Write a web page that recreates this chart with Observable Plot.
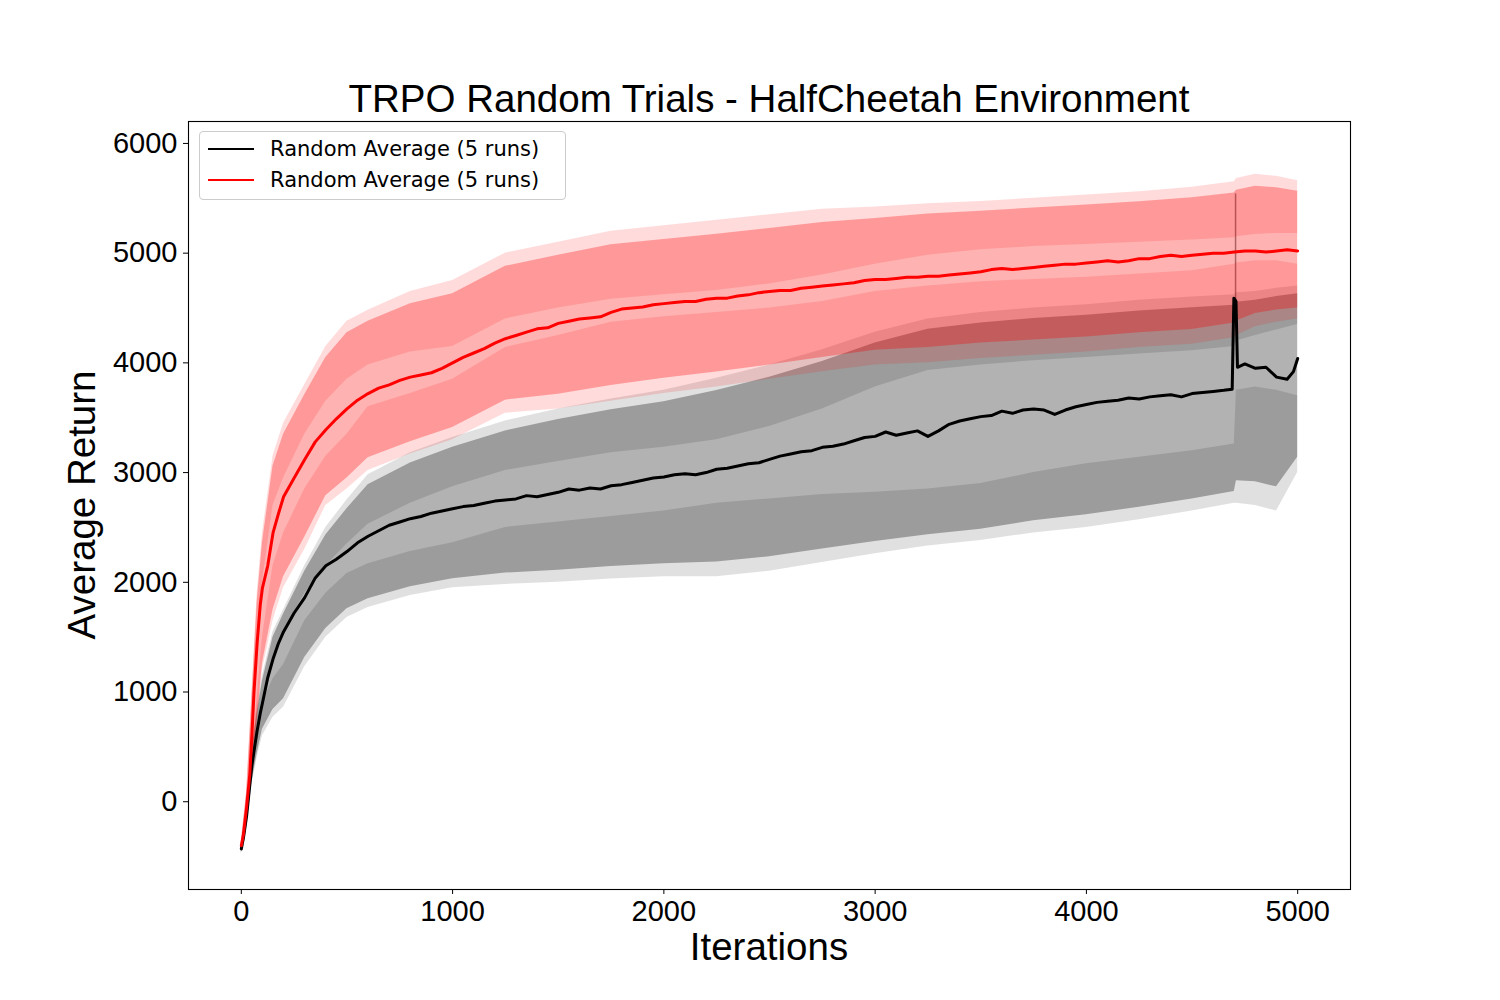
<!DOCTYPE html>
<html><head><meta charset="utf-8">
<script src="https://cdn.jsdelivr.net/npm/d3@7"></script>
<script src="https://cdn.jsdelivr.net/npm/@observablehq/plot@0.6"></script>
<style>
html,body{margin:0;padding:0;background:#fff;}
#wrap{position:relative;width:1500px;height:1000px;overflow:hidden;background:#fff;}
#title{position:relative;height:111px;}
#title span{position:absolute;left:188px;width:1162px;top:80px;text-align:center;font:38.5px/1 'Liberation Sans',Arial,sans-serif;white-space:nowrap;color:#000;}
#chart svg{display:block;}
.axlab{position:absolute;font:38.5px/1 'Liberation Sans',Arial,sans-serif;white-space:nowrap;color:#000;}
#xlab{left:0;width:1538px;top:928px;text-align:center;}
#ylab{left:82px;top:505px;transform:translate(-50%,-50%) rotate(-90deg);}
#legend{position:absolute;left:199px;top:131px;width:365px;height:67px;border:1px solid #cccccc;border-radius:4px;background:rgba(255,255,255,0.8);}
#legend .sw{position:absolute;left:8px;width:46px;height:2px;}
#legend .tx{position:absolute;left:70px;font:21px/1 'DejaVu Sans',sans-serif;white-space:nowrap;color:#000;}
</style></head>
<body>
<div id="wrap">
  <div id="title"><span>TRPO Random Trials - HalfCheetah Environment</span></div>
  <div id="chart"></div>
  <div class="axlab" id="xlab">Iterations</div>
  <div class="axlab" id="ylab">Average Return</div>
  <div id="legend"></div>
</div>
<script>
// ---- data ----
const xTicks = [0, 1000, 2000, 3000, 4000, 5000];
const yTicks = [0, 1000, 2000, 3000, 4000, 5000, 6000];
const legendLabels = ["Random Average (5 runs)", "Random Average (5 runs)"];
const seriesColors = ["#000000", "#ff0000"];

// iterations at which the spread bands were read
const zoneIters = [0,25,50,75,100,150,200,300,400,500,600,800,1000,1250,1500,1750,2000,2250,2500,2750,3000,3250,3500,3750,4000,4250,4500,4700,4710,4800,4900,5000];

// red run: noisy upper edge (bottom/top of its spikes) and noisy lower edge
const redUpperHi = [-350,100,1000,1900,2450,3150,3450,3800,4150,4380,4480,4650,4750,5000,5100,5200,5250,5300,5350,5400,5420,5450,5470,5500,5530,5560,5600,5650,5680,5720,5700,5660];
const redUpperLo = [-420,-20,700,1500,2000,2700,2950,3350,3650,3850,3980,4100,4150,4400,4500,4580,4620,4660,4720,4800,4900,4980,5030,5060,5080,5100,5120,5140,5150,5170,5180,5180];
const redLowerHi = [-420,-50,400,950,1500,2150,2450,2850,3150,3350,3600,3720,3850,4140,4250,4370,4420,4460,4500,4560,4650,4700,4740,4760,4780,4810,4840,4900,4910,4930,4930,4900];
const redLowerLo = [-450,-150,250,700,1200,1650,1950,2300,2700,2850,3020,3170,3300,3540,3580,3650,3720,3780,3850,3920,3980,4000,4040,4070,4100,4140,4170,4230,4250,4330,4370,4400];

// black run: noisy upper edge and noisy lower edge
const blackUpperHi = [-400,-50,500,850,1150,1550,1750,2150,2500,2750,2980,3180,3320,3470,3580,3670,3750,3860,3980,4120,4280,4400,4460,4500,4530,4570,4600,4620,4640,4650,4680,4700];
const blackUpperLo = [-450,-150,350,650,900,1300,1550,1900,2150,2350,2530,2720,2870,3020,3100,3180,3230,3300,3420,3580,3780,3930,3980,4020,4050,4080,4110,4150,4200,4250,4300,4350];
const blackLowerHi = [-430,-150,300,600,900,1120,1250,1650,1900,2080,2170,2280,2360,2500,2550,2600,2650,2720,2760,2800,2820,2850,2900,3000,3080,3140,3200,3260,3750,3780,3750,3700];
const blackLowerLo = [-480,-250,150,400,600,770,860,1230,1500,1680,1770,1880,1950,1980,2000,2030,2050,2050,2100,2180,2260,2330,2380,2450,2500,2570,2650,2720,2720,2700,2650,3000];

// single spike of the black upper edge near iteration 4706
const blackSpikeIter = [4706];
const blackSpikeLow = [4400];
const blackSpikeHigh = [5540];

// mean curves
const blackIters = [0,10,25,40,50,60,75,90,100,125,150,175,200,250,300,350,400,450,500,550,600,650,700,750,800,850,900,950,1000,1050,1100,1150,1200,1250,1300,1350,1400,1450,1500,1550,1600,1650,1700,1750,1800,1850,1900,1950,2000,2050,2100,2150,2200,2250,2300,2350,2400,2450,2500,2550,2600,2650,2700,2750,2800,2850,2900,2950,3000,3050,3100,3150,3200,3250,3300,3350,3400,3450,3500,3550,3600,3650,3700,3750,3800,3850,3900,3950,4000,4050,4100,4150,4200,4250,4300,4350,4400,4450,4500,4550,4600,4650,4690,4698,4708,4715,4750,4800,4850,4900,4950,4980,5000];
const blackMean = [-430,-330,-130,150,330,460,650,810,900,1130,1300,1440,1550,1720,1860,2040,2150,2210,2280,2360,2420,2470,2520,2550,2580,2600,2630,2650,2670,2690,2700,2720,2740,2750,2760,2790,2780,2800,2820,2850,2840,2860,2850,2880,2890,2910,2930,2950,2960,2980,2990,2980,3000,3030,3040,3060,3080,3090,3120,3150,3170,3190,3200,3230,3240,3260,3290,3320,3330,3370,3340,3360,3380,3330,3380,3440,3470,3490,3510,3520,3560,3540,3570,3580,3570,3530,3570,3600,3620,3640,3650,3660,3680,3670,3690,3700,3710,3690,3720,3730,3740,3750,3760,4590,4560,3960,3990,3950,3960,3870,3850,3920,4040];

const redIters = [0,10,25,40,50,60,75,90,100,125,150,175,200,250,300,350,400,450,500,550,600,650,700,750,800,850,900,950,1000,1050,1100,1150,1200,1250,1300,1350,1400,1450,1500,1550,1600,1650,1700,1750,1800,1850,1900,1950,2000,2050,2100,2150,2200,2250,2300,2350,2400,2450,2500,2550,2600,2650,2700,2750,2800,2850,2900,2950,3000,3050,3100,3150,3200,3250,3300,3350,3400,3450,3500,3550,3600,3650,3700,3750,3800,3850,3900,3950,4000,4050,4100,4150,4200,4250,4300,4350,4400,4450,4500,4550,4600,4650,4700,4750,4800,4850,4900,4950,5000];
const redMean = [-400,-300,-50,250,600,1000,1450,1800,1950,2150,2450,2620,2780,2950,3120,3280,3390,3490,3580,3660,3720,3770,3800,3840,3870,3890,3910,3950,4000,4050,4090,4130,4180,4220,4250,4280,4310,4320,4360,4380,4400,4410,4420,4460,4490,4500,4510,4530,4540,4550,4560,4560,4580,4590,4590,4610,4620,4640,4650,4660,4660,4680,4690,4700,4710,4720,4730,4750,4760,4760,4770,4780,4780,4790,4790,4800,4810,4820,4830,4850,4860,4850,4860,4870,4880,4890,4900,4900,4910,4920,4930,4920,4930,4950,4950,4970,4980,4970,4980,4990,5000,5000,5010,5020,5020,5010,5020,5030,5020];

// ---- derived: the shaded fill reaches most of the way into each noisy edge ----
const inner = (lo, hi, t) => lo.map((v, i) => v + t * (hi[i] - v));
const blackFillLow = inner(blackLowerLo, blackLowerHi, 0.2);
const blackFillHigh = inner(blackUpperLo, blackUpperHi, 0.8);
const redFillLow = inner(redLowerLo, redLowerHi, 0.2);
const redFillHigh = inner(redUpperLo, redUpperHi, 0.8);

const chart = Plot.plot({
  width: 1500,
  height: 889,
  marginTop: 10,
  marginBottom: 111,
  marginLeft: 188,
  marginRight: 150,
  style: {fontFamily: "'Liberation Sans', Arial, sans-serif", fontSize: "29px", color: "#000", background: "#fff"},
  x: {domain: [-250, 5250], ticks: xTicks, tickFormat: d => String(d), label: null, tickSize: 5, tickPadding: 6},
  y: {domain: [-800, 6200], ticks: yTicks, tickFormat: d => String(d), label: null, tickSize: 5, tickPadding: 6},
  marks: [
    // black run spread
    Plot.areaY(zoneIters, {x: zoneIters, y1: blackFillLow, y2: blackFillHigh, fill: seriesColors[0], fillOpacity: 0.3}),
    Plot.areaY(zoneIters, {x: zoneIters, y1: blackUpperLo, y2: blackUpperHi, fill: seriesColors[0], fillOpacity: 0.12}),
    Plot.areaY(zoneIters, {x: zoneIters, y1: blackLowerLo, y2: blackLowerHi, fill: seriesColors[0], fillOpacity: 0.12}),
    Plot.ruleX(blackSpikeIter, {x: blackSpikeIter, y1: blackSpikeLow, y2: blackSpikeHigh, stroke: seriesColors[0], strokeOpacity: 0.45, strokeWidth: 1.5}),
    // red run spread
    Plot.areaY(zoneIters, {x: zoneIters, y1: redFillLow, y2: redFillHigh, fill: seriesColors[1], fillOpacity: 0.3}),
    Plot.areaY(zoneIters, {x: zoneIters, y1: redUpperLo, y2: redUpperHi, fill: seriesColors[1], fillOpacity: 0.14}),
    Plot.areaY(zoneIters, {x: zoneIters, y1: redLowerLo, y2: redLowerHi, fill: seriesColors[1], fillOpacity: 0.14}),
    // means
    Plot.line(blackIters, {x: blackIters, y: blackMean, stroke: seriesColors[0], strokeWidth: 3}),
    Plot.line(redIters, {x: redIters, y: redMean, stroke: seriesColors[1], strokeWidth: 3}),
    Plot.frame({stroke: "#000", strokeWidth: 1.1})
  ]
});
document.getElementById("chart").appendChild(chart);

// legend
const lg = document.getElementById("legend");
legendLabels.forEach((lab, i) => {
  const top = i === 0 ? 7 : 38;
  const sw = document.createElement("div");
  sw.className = "sw";
  sw.style.top = (top + 9) + "px";
  sw.style.background = seriesColors[i];
  lg.appendChild(sw);
  const tx = document.createElement("div");
  tx.className = "tx";
  tx.style.top = top + "px";
  tx.textContent = lab;
  lg.appendChild(tx);
});
</script>
</body></html>
